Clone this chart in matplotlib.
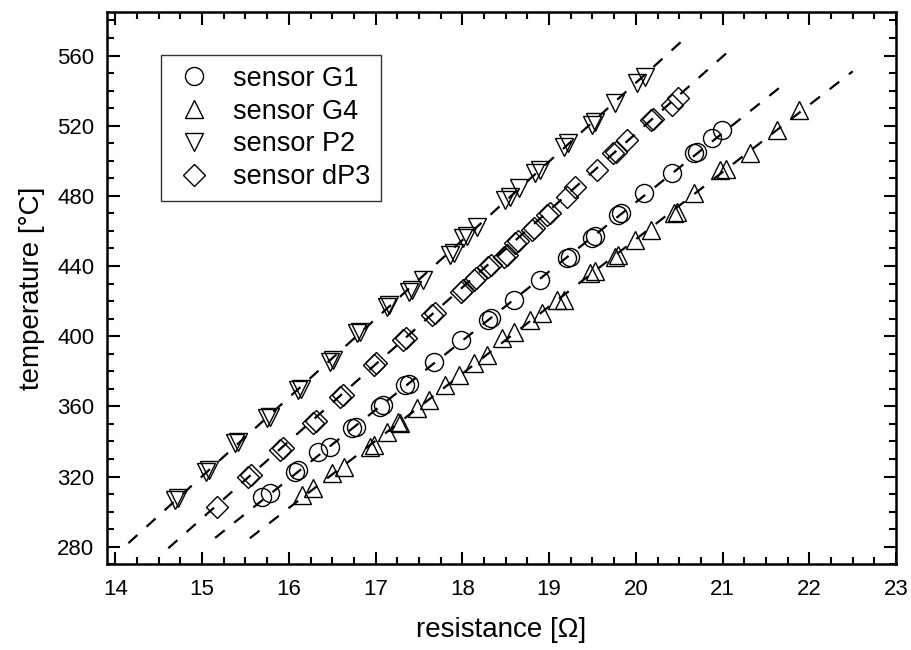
import matplotlib
matplotlib.use('Agg')
import matplotlib.pyplot as plt
from matplotlib.ticker import MultipleLocator

plt.rcParams['font.family'] = ['Liberation Sans', 'DejaVu Sans']

# sensor G1 (circles), heating and cooling points overlap in pairs
g1_r = [15.69, 15.78, 16.07, 16.10, 16.34, 16.48, 16.73, 16.77, 17.05, 17.08, 17.34, 17.38, 17.67,
        17.98, 18.30, 18.33, 18.59, 18.90, 19.21, 19.24, 19.49, 19.53, 19.80, 19.83, 20.09, 20.42,
        20.67, 20.70, 20.88, 20.99]
g1_t = [308.5, 310.5, 322.8, 323.5, 334.2, 337.0, 347.5, 348.5, 359.9, 361.0, 372.2, 373.0, 385.5,
        397.9, 409.3, 410.2, 420.7, 432.1, 444.4, 445.2, 455.9, 457.0, 469.1, 470.0, 481.5, 492.9,
        504.3, 505.0, 512.9, 517.6]

# sensor G4 (up triangles)
g4_r = [16.15, 16.28, 16.50, 16.63, 16.94, 16.98, 17.13, 17.26, 17.28, 17.48, 17.61, 17.80, 17.96,
        18.13, 18.28, 18.46, 18.59, 18.78, 18.92, 19.09, 19.17, 19.47, 19.53, 19.76, 19.80, 19.99,
        20.17, 20.44, 20.48, 20.67, 20.97, 21.04, 21.32, 21.63, 21.88]
g4_t = [309.5, 313.3, 321.9, 325.6, 337.0, 338.2, 345.6, 351.3, 350.4, 358.9, 363.7, 372.2, 377.9,
        384.6, 389.3, 398.8, 402.6, 409.3, 413.1, 420.7, 420.7, 435.9, 437.0, 445.4, 446.5, 454.9,
        460.6, 470.1, 471.0, 481.5, 494.8, 495.5, 504.3, 517.6, 529.0]

# sensor P2 (down triangles)
p2_r = [14.69, 14.72, 15.05, 15.08, 15.38, 15.41, 15.75, 15.78, 16.11, 16.14, 16.48, 16.51, 16.78,
        16.82, 17.13, 17.16, 17.38, 17.42, 17.55, 17.86, 17.90, 18.01, 18.05, 18.17, 18.49, 18.55,
        18.65, 18.84, 18.90, 19.17, 19.22, 19.49, 19.53, 19.76, 20.01, 20.11]
p2_t = [306.7, 307.5, 322.8, 323.5, 339.0, 339.8, 353.2, 354.0, 369.4, 370.0, 385.5, 386.3, 401.7,
        402.5, 416.9, 418.0, 425.4, 426.5, 432.1, 446.3, 447.5, 455.9, 457.0, 462.5, 477.7, 479.5,
        484.4, 492.9, 495.0, 508.1, 510.0, 520.5, 522.0, 532.9, 544.3, 548.0]

# sensor dP3 (diamonds)
dp3_r = [15.17, 15.53, 15.56, 15.90, 15.93, 16.28, 16.31, 16.59, 16.62, 16.98, 17.01, 17.32, 17.35,
         17.65, 17.68, 17.98, 18.01, 18.13, 18.16, 18.30, 18.33, 18.48, 18.51, 18.61, 18.64, 18.80,
         18.83, 18.98, 19.01, 19.21, 19.30, 19.55, 19.74, 19.77, 19.90, 20.17, 20.20, 20.42, 20.49]
dp3_t = [302.8, 320.0, 320.8, 335.2, 336.3, 350.4, 351.5, 365.6, 366.5, 383.6, 384.5, 397.9, 399.0,
         412.1, 413.0, 425.4, 426.5, 432.1, 433.2, 439.7, 440.8, 445.4, 446.5, 453.0, 454.0, 460.6,
         461.5, 469.1, 470.0, 479.6, 485.3, 494.8, 504.3, 505.2, 511.9, 523.3, 524.0, 531.9, 535.7]

# dashed fit lines (end points)
fit_p2_r, fit_p2_t = [14.15, 20.61], [282.0, 571.8]
fit_dp3_r, fit_dp3_t = [14.61, 21.13], [279.1, 565.1]
fit_g1_r, fit_g1_t = [15.15, 21.65], [285.0, 541.4]
fit_g4_r, fit_g4_t = [15.55, 22.50], [284.8, 551.0]

fig = plt.figure(figsize=(9.12, 6.5), dpi=100)
ax = fig.add_axes([0.117, 0.132, 0.8655, 0.85])

mk = dict(linestyle='none', markerfacecolor='none', markeredgecolor='black',
          markeredgewidth=1.0, markersize=13)
ax.plot(g1_r, g1_t, marker='o', label='sensor G1', **mk)
ax.plot(g4_r, g4_t, marker='^', label='sensor G4', **mk)
ax.plot(p2_r, p2_t, marker='v', label='sensor P2', **mk)
ax.plot(dp3_r, dp3_t, marker='D', label='sensor dP3', **dict(mk, markersize=11))

for fr, ft in [(fit_p2_r, fit_p2_t), (fit_dp3_r, fit_dp3_t), (fit_g1_r, fit_g1_t), (fit_g4_r, fit_g4_t)]:
    ax.plot(fr, ft, color='black', linestyle=(0, (5.5, 5.5)), linewidth=1.6, zorder=3)

ax.set_xlim(13.9, 23.0)
ax.set_ylim(270, 585)
ax.xaxis.set_major_locator(MultipleLocator(1))
ax.xaxis.set_minor_locator(MultipleLocator(0.25))
ax.yaxis.set_major_locator(MultipleLocator(40))
ax.yaxis.set_minor_locator(MultipleLocator(10))
ax.tick_params(which='both', direction='in', top=True, right=True, width=1.5, labelsize=16)
ax.tick_params(axis='x', pad=11)
ax.tick_params(axis='y', pad=9)
ax.tick_params(which='major', length=9)
ax.tick_params(which='minor', length=5)
for s in ax.spines.values():
    s.set_linewidth(1.8)

ax.set_xlabel('resistance [Ω]', fontsize=20, labelpad=12)
ax.set_ylabel('temperature [°C]', fontsize=20, labelpad=9)

leg = ax.legend(loc='upper left', bbox_to_anchor=(0.069, 0.9216), borderaxespad=0, fontsize=19.5,
                frameon=True, fancybox=False, edgecolor='black', handlelength=1.6,
                handletextpad=0.65, borderpad=0.4, labelspacing=0.25, numpoints=1)
leg.get_frame().set_linewidth(1.0)

fig.savefig('out.png', dpi=100)
